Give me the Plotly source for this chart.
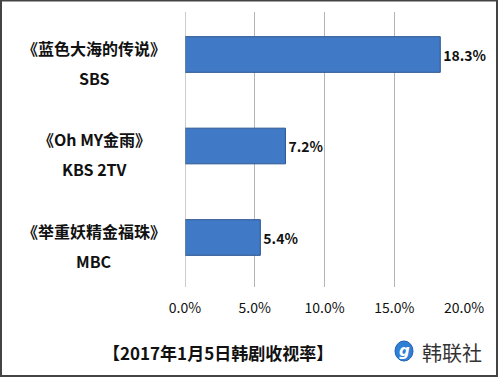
import plotly.graph_objects as go

dramas = ["《蓝色大海的传说》", "《Oh MY金雨》", "《举重妖精金福珠》"]
networks = ["SBS", "KBS 2TV", "MBC"]
ratings = [18.3, 7.2, 5.4]
x_ticks = [0, 5, 10, 15, 20]
x_tick_labels = ["0.0%", "5.0%", "10.0%", "15.0%", "20.0%"]
title_text = "【2017年1月5日韩剧收视率】"
logo_text = "韩联社"

W, H = 499, 377
ML, MR, MT, MB = 185, 35, 12, 90
PW, PH = W - ML - MR, H - MT - MB

def px(x):
    return (x - ML) / PW

def py(y):
    return (H - MB - y) / PH

FONT = "Noto Sans CJK SC"
cats = list(range(len(dramas)))

fig = go.Figure()
fig.add_trace(go.Bar(
    x=ratings, y=cats, orientation="h",
    marker=dict(color="#4079c6", line=dict(color="#2a5590", width=1)),
    text=[f"{v:.1f}%" for v in ratings], textposition="outside",
    textfont=dict(family=FONT, size=14, color="#111111"),
    cliponaxis=False, width=0.39, hoverinfo="skip",
))

annotations = []
for i, (d, n) in enumerate(zip(dramas, networks)):
    annotations.append(dict(x=px(94), xref="paper", y=i, yref="y", text=f"<b>{d}</b>",
                            showarrow=False, yshift=7, xanchor="center", yanchor="middle",
                            font=dict(family=FONT, size=16, color="#111111")))
    annotations.append(dict(x=px(94), xref="paper", y=i, yref="y", text=f"<b>{n}</b>",
                            showarrow=False, yshift=-23, xanchor="center", yanchor="middle",
                            font=dict(family=FONT, size=16, color="#111111")))

annotations.append(dict(x=px(218), xref="paper", y=py(352), yref="paper", text=f"<b>{title_text}</b>",
                        showarrow=False, xanchor="center", yanchor="middle",
                        font=dict(family=FONT, size=17, color="#111111")))
annotations.append(dict(x=px(452), xref="paper", y=py(352), yref="paper", text=logo_text,
                        showarrow=False, xanchor="center", yanchor="middle",
                        font=dict(family=FONT, size=20, color="#333333")))
annotations.append(dict(x=px(404), xref="paper", y=py(351), yref="paper", text="<b><i>g</i></b>",
                        showarrow=False, xanchor="center", yanchor="middle",
                        font=dict(family="DejaVu Sans", size=15, color="white")))

shapes = [
    dict(type="circle", xref="paper", yref="paper", x0=px(395), x1=px(413), y0=py(361), y1=py(341),
         fillcolor="#2f7fd6", line=dict(color="#1f5fae", width=1), layer="below"),
    dict(type="rect", xref="paper", yref="paper", x0=px(1), x1=px(497), y0=py(376), y1=py(0.5),
         line=dict(color="#444444", width=2), fillcolor="rgba(0,0,0,0)"),
    dict(type="line", xref="x", yref="paper", x0=0, x1=0, y0=0, y1=1,
         line=dict(color="#999999", width=1)),
]

fig.update_layout(
    width=W, height=H,
    margin=dict(l=ML, r=MR, t=MT, b=MB),
    paper_bgcolor="white", plot_bgcolor="white",
    showlegend=False,
    xaxis=dict(range=[0, 20], tickvals=x_ticks, ticktext=x_tick_labels,
               showgrid=True, gridcolor="#b4b4b4", gridwidth=1, zeroline=False,
               showline=False, ticks="", ticklabelstandoff=11,
               tickfont=dict(family=FONT, size=14, color="#111111"), fixedrange=True),
    yaxis=dict(range=[2.541, -0.4645], tickvals=cats, showticklabels=False,
               showgrid=False, zeroline=False, showline=False, fixedrange=True),
    annotations=annotations, shapes=shapes,
)
fig.update_traces(texttemplate="<b>%{text}</b>")

fig.write_html("out.html", config={"displayModeBar": False},
               post_script="document.body.style.margin='0';document.body.style.overflow='hidden';")
